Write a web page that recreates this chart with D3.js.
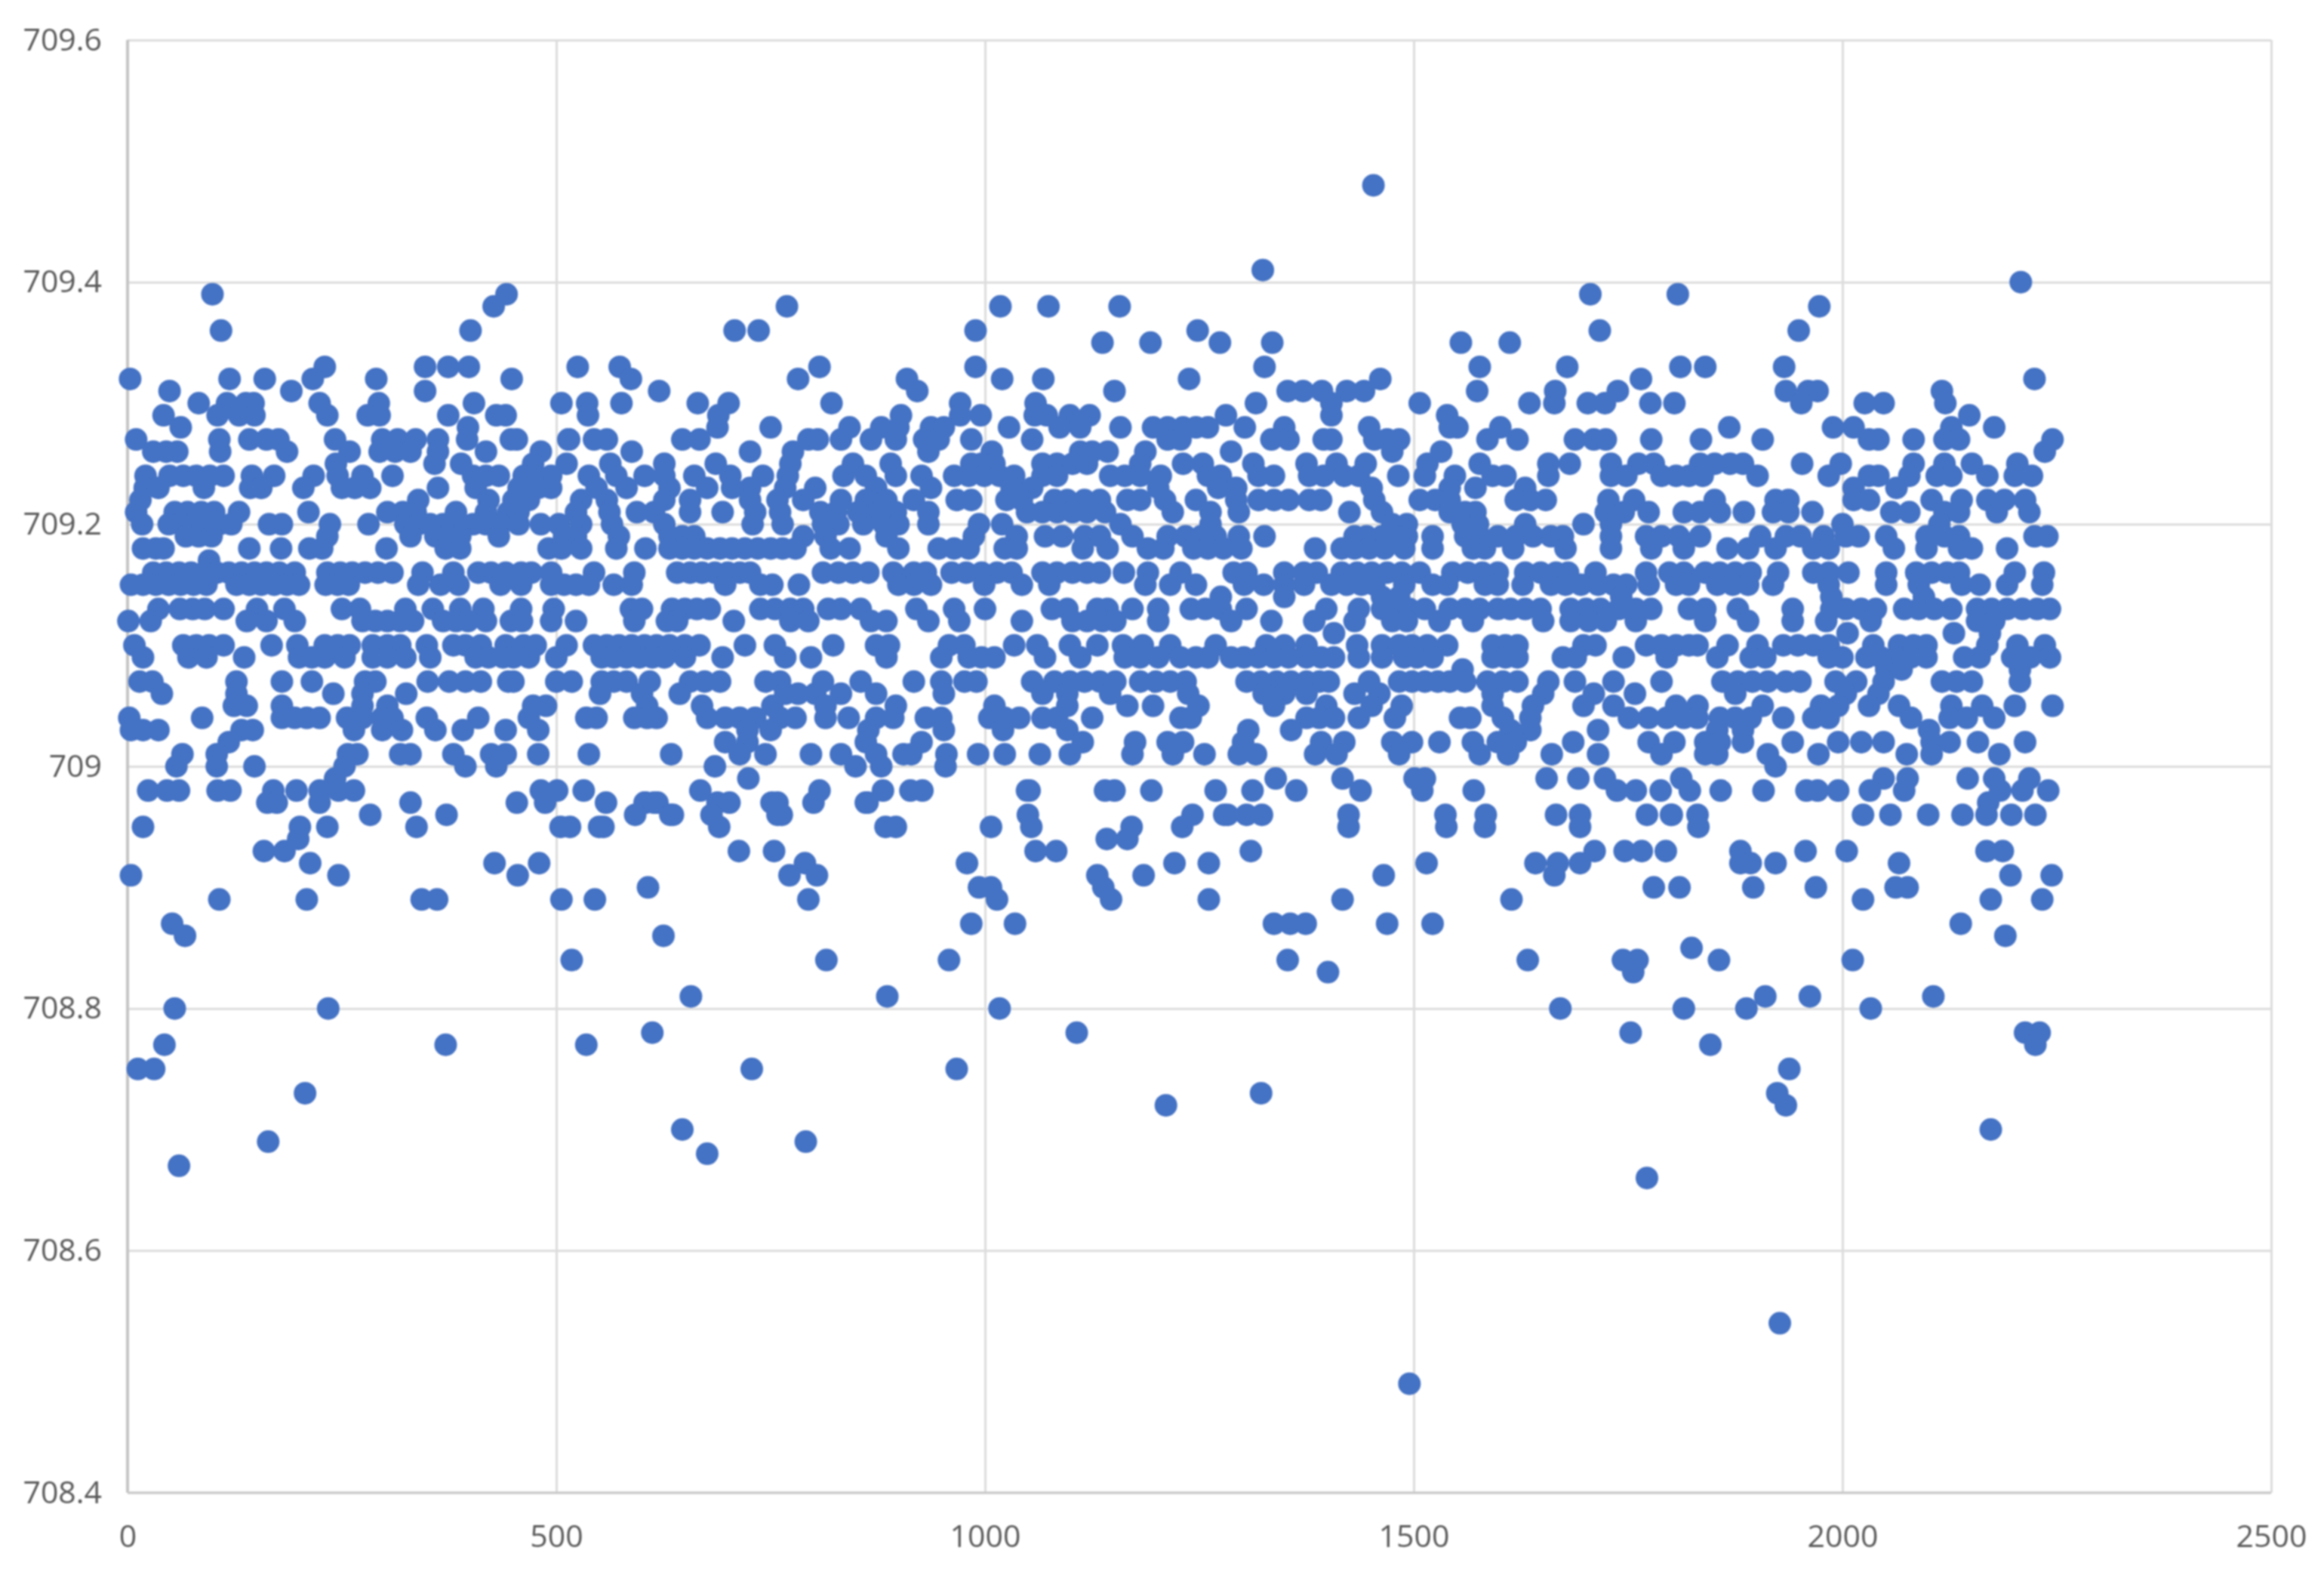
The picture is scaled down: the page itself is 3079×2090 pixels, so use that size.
<!DOCTYPE html>
<html><head><meta charset="utf-8">
<script src="https://cdn.jsdelivr.net/npm/d3@7"></script>
<style>html,body{margin:0;background:#fff}svg{display:block;filter:blur(0.8px)}
text{font-family:"Open Sans",sans-serif;fill:#595959}</style></head><body>
<svg id="c" width="3079" height="2090"></svg>
<script>
const xTicks=[0,500,1000,1500,2000,2500];
const yTicks=[708.4,708.6,708.8,709,709.2,709.4,709.6];
const r948=[1453];const r941=[1324];const r940=[2208];
const r939=[99,442,1706,1808];
const r938=[427,769,1018,1074,1157,1973];
const r936=[109,400,708,736,989,1248,1717,1949];
const r935=[1137,1193,1274,1335,1555,1612];
const r933=[230,347,374,398,525,574,807,989,1326,1577,1679,1811,1840,1932];
const r932=[3,119,160,216,290,448,587,782,909,1020,1068,1238,1461,1765,2224];
const r931=[49,191,347,620,921,1151,1353,1371,1393,1422,1442,1574,1665,1738,1934,1960,1971,2116];
const r930=[83,116,138,147,224,293,404,506,536,576,665,701,821,971,1059,1316,1404,1507,1635,1664,1703,1723,1776,1804,1952,2026,2048,2120];
const r929=[42,105,130,148,233,280,294,374,430,441,537,689,902,971,995,1058,1072,1099,1122,1281,1404,1539,2148];
const r928=[62,397,688,750,842,879,899,937,952,1028,1087,1111,1158,1196,1213,1231,1246,1260,1303,1349,1448,1542,1551,1601,1868,1989,2013,2127,2177];
const r927=[10,107,142,162,176,242,297,315,336,362,396,447,454,514,515,544,559,647,667,794,805,832,867,896,929,946,984,1055,1213,1228,1334,1354,1395,1404,1454,1469,1483,1586,1621,1688,1710,1724,1777,1835,1907,2031,2042,2083,2119,2136,2245];
const r926=[30,45,58,108,186,259,294,312,330,362,418,482,588,726,776,934,1008,1111,1125,1143,1187,1287,1475,1532,2236];
const r925=[243,358,389,473,512,563,626,686,773,846,890,984,996,1011,1067,1084,1102,1119,1181,1231,1254,1313,1375,1410,1444,1516,1577,1657,1682,1730,1762,1780,1834,1851,1869,1884,1953,1998,2083,2119,2151,2204];
const r924=[21,49,65,80,96,112,145,171,217,245,274,309,403,418,433,462,473,494,538,570,603,626,661,703,741,770,835,861,896,926,964,981,999,1017,1034,1067,1084,1146,1163,1181,1205,1260,1275,1319,1337,1378,1395,1419,1436,1482,1513,1548,1592,1607,1657,1730,1748,1789,1806,1821,1837,1901,1984,2031,2042,2078,2110,2127,2169,2201,2221];
const r923=[20,36,89,143,156,205,250,265,283,362,406,456,479,494,547,582,632,676,705,726,767,802,873,937,1031,1055,1202,1272,1293,1451,1542,1572,1630,2013,2063];
const r922=[15,339,421,450,468,529,559,626,656,726,758,788,832,861,885,917,967,984,1025,1043,1081,1096,1116,1134,1166,1181,1210,1246,1293,1319,1337,1354,1378,1392,1454,1507,1525,1542,1619,1636,1654,1727,1757,1851,1922,1937,2013,2031,2104,2139,2169,2189,2213];
const r921=[10,55,70,86,101,130,211,303,321,336,383,418,444,456,523,562,594,614,656,694,732,761,808,826,852,876,896,934,1049,1067,1084,1102,1119,1140,1219,1263,1296,1425,1463,1542,1560,1572,1724,1745,1774,1815,1834,1857,1885,1919,1937,1965,2057,2078,2119,2136,2180,2218];
const r920=[17,48,62,77,92,107,121,165,180,236,281,324,339,353,368,386,403,418,435,456,482,503,529,565,626,729,764,811,829,858,882,899,934,993,1020,1158,1263,1475,1492,1557,1575,1630,1698,1730,2000,2113];
const r919=[68,83,98,233,330,359,374,388,433,509,523,573,632,647,661,788,814,885,987,1037,1070,1090,1116,1134,1172,1213,1234,1252,1269,1296,1326,1431,1445,1463,1478,1492,1522,1560,1577,1598,1619,1639,1660,1674,1730,1771,1789,1809,1834,1904,1934,1951,1978,2004,2019,2051,2098,2119,2136,2224,2239];
const r918=[18,33,42,142,179,212,227,302,371,388,491,506,529,570,604,632,647,661,676,691,705,720,735,750,764,779,820,842,899,946,964,981,1023,1037,1114,1143,1190,1208,1243,1260,1278,1299,1385,1416,1431,1448,1466,1489,1522,1569,1583,1616,1677,1730,1777,1815,1866,1890,1922,1966,1984,2060,2098,2136,2151,2192];
const r917=[95];
const r916=[30,45,60,74,89,104,118,133,148,162,177,195,233,248,262,277,292,309,344,380,409,424,441,459,471,494,544,591,641,656,670,685,700,714,726,811,829,846,864,893,917,931,961,978,996,1014,1031,1067,1084,1102,1119,1134,1162,1190,1228,1290,1305,1349,1372,1387,1416,1434,1451,1469,1486,1507,1545,1563,1580,1598,1630,1648,1666,1680,1712,1771,1798,1815,1840,1857,1875,1893,1925,1966,1984,2007,2051,2086,2104,2122,2136,2201,2235];
const r915=[4,18,33,48,62,77,92,127,142,156,171,186,200,231,245,258,339,365,386,435,459,494,509,523,538,567,588,697,738,752,783,899,917,937,999,1043,1075,1187,1216,1246,1302,1325,1349,1372,1404,1422,1439,1454,1489,1522,1539,1583,1598,1627,1660,1677,1695,1715,1733,1748,1774,1806,1821,1854,1872,1890,1919,1984,2051,2089,2139,2160,2192,2233];
const r914=[1275,1349,1463,1483,1742,1987,2095];
const r913=[36,61,76,90,112,151,183,250,271,324,356,388,415,459,497,587,600,635,650,664,679,738,755,773,788,817,832,855,920,964,1000,1078,1096,1131,1143,1172,1202,1240,1257,1275,1305,1398,1436,1463,1481,1495,1513,1542,1560,1577,1598,1613,1630,1648,1683,1701,1718,1739,1759,1777,1821,1840,1878,1942,1987,2004,2022,2039,2072,2089,2107,2127,2157,2174,2192,2210,2227,2242];
const r912=[1,27,139,162,195,274,289,303,318,333,368,383,397,418,447,460,494,523,591,629,641,707,773,794,867,885,934,970,1043,1102,1119,1137,1152,1202,1287,1334,1384,1431,1475,1492,1530,1569,1651,1683,1704,1724,1759,1840,1890,1942,1981,2033,2157,2177];
const r911=[1407,2006,2130,2172];
const r910=[8,65,80,95,112,168,198,230,245,259,286,303,318,349,380,394,412,441,462,476,512,544,559,573,588,603,617,632,650,667,720,755,823,873,888,958,976,1034,1061,1099,1131,1161,1184,1216,1269,1328,1349,1375,1434,1463,1483,1498,1516,1539,1592,1607,1621,1698,1712,1771,1789,1806,1821,1831,1866,1901,1931,1948,1966,1984,2036,2066,2083,2098,2169,2204,2236];
const r909=[18,71,92,136,200,215,230,253,286,303,324,353,406,421,438,450,468,500,553,567,582,597,612,626,650,694,767,797,885,949,981,996,1011,1070,1111,1163,1181,1202,1228,1246,1260,1287,1302,1319,1337,1354,1375,1392,1407,1436,1463,1489,1504,1522,1592,1607,1621,1674,1689,1745,1795,1854,1893,1910,1984,2000,2028,2045,2063,2080,2098,2142,2160,2198,2219,2242];
const r908=[1557,2051,2069,2207];
const r907=[14,29,127,180,215,277,289,350,375,394,412,444,450,500,518,553,567,582,609,656,673,691,744,761,811,855,917,949,976,990,1055,1081,1099,1116,1134,1152,1181,1199,1216,1234,1305,1322,1340,1357,1375,1390,1401,1448,1483,1498,1513,1528,1542,1560,1586,1604,1621,1657,1688,1733,1789,1860,1878,1895,1913,1934,1951,1992,2016,2048,2116,2133,2151,2207];
const r906=[40,127,240,274,325,551,600,644,767,782,802,832,873,952,1067,1096,1146,1237,1325,1349,1375,1431,1460,1592,1651,1710,1758,1875,2004,2042];
const r905=[124,139,180,274,303,473,488,606,670,752,814,896,1011,1096,1166,1196,1249,1337,1398,1451,1486,1592,1639,1698,1733,1806,1831,1907,1975,1995,2031,2066,2127,2163,2201,2245];
const r904=[2,87,180,195,209,224,256,274,297,309,349,409,468,535,547,591,606,617,676,697,714,732,761,779,814,841,873,893,931,949,1005,1023,1040,1067,1084,1125,1228,1240,1375,1390,1407,1436,1478,1554,1566,1604,1636,1751,1774,1795,1815,1831,1857,1875,1893,1931,1966,1984,2080,2125,2145,2177];
const r903=[4,18,36,133,146,264,297,320,359,391,441,479,723,750,864,952,1021,1096,1307,1357,1613,1636,1715,1854,1884,2101];
const r902=[118,697,723,861,926,1114,1175,1213,1231,1301,1392,1419,1475,1498,1530,1569,1598,1619,1686,1774,1804,1840,1857,1884,1942,1995,2022,2048,2104,2125,2158,2213];
const r901=[64,104,257,268,318,330,380,424,441,479,538,634,714,744,797,832,873,905,914,955,992,1023,1064,1099,1172,1219,1256,1296,1316,1385,1410,1483,1577,1610,1661,1715,1789,1840,1854,1913,1972,2075,2104,2183];
const r900=[57,104,148,253,394,430,685,849,879,954,1922];
const r899=[242,724,1339,1417,1501,1513,1655,1692,1723,1812,2048,2076,2146,2177,2218];
const r898=[24,46,60,105,120,170,197,224,246,264,482,501,532,668,807,881,913,927,1049,1052,1140,1151,1194,1269,1312,1363,1438,1510,1570,1737,1759,1788,1822,1858,1908,1958,1971,1995,2032,2072,2184,2210,2240];
const r897=[163,174,224,330,454,487,558,603,604,614,618,688,702,751,758,800,861,863,2170];
const r896=[283,372,592,633,636,681,758,763,1050,1242,1279,1283,1305,1323,1424,1537,1584,1666,1694,1772,1800,1801,1831,2024,2056,2100,2140,2168,2197,2225];
const r895=[18,201,233,337,505,516,550,555,690,884,896,1007,1054,1171,1230,1424,1538,1583,1694,1832];
const r894=[199,1142,1166];
const r893=[159,183,713,754,1059,1083,1310,1711,1746,1766,1794,1881,1957,2005,2168,2187];
const r892=[213,428,480,790,979,1221,1261,1515,1642,1668,1694,1881,1893,1922,2066];
const r891=[4,246,455,772,804,1131,1185,1465,1664,2196,2244];
const r890=[607,993,1007,1138,1780,1810,1896,1969,2062,2076];
const r889=[107,209,343,361,506,545,794,1014,1147,1261,1417,1614,2024,2173,2233];
const r887=[52,984,1035,1337,1356,1374,1469,1522,2138];
const r886=[67,625,2190];
const r885=[1824];
const r884=[518,815,958,1353,1633,1744,1761,1856,2012];
const r883=[1400,1756];
const r881=[657,886,1910,1962,2106];
const r880=[55,234,1017,1671,1815,1888,2033];
const r878=[612,1107,1753,2213,2230];
const r877=[43,371,535,1846,2225];
const r875=[12,31,728,967,1938];
const r873=[207,1322,1924];
const r872=[1211,1934];
const r870=[647,2173];
const r869=[164,791];
const r868=[676];
const r867=[60];
const r866=[1772];
const r854=[1927];
const r849=[1495];
const levels=[[709.48,r948],[709.41,r941],[709.40,r940],[709.39,r939],[709.38,r938],[709.36,r936],[709.35,r935],[709.33,r933],[709.32,r932],[709.31,r931],[709.30,r930],[709.29,r929],[709.28,r928],[709.27,r927],[709.26,r926],[709.25,r925],[709.24,r924],[709.23,r923],[709.22,r922],[709.21,r921],[709.20,r920],[709.19,r919],[709.18,r918],[709.17,r917],[709.16,r916],[709.15,r915],[709.14,r914],[709.13,r913],[709.12,r912],[709.11,r911],[709.10,r910],[709.09,r909],[709.08,r908],[709.07,r907],[709.06,r906],[709.05,r905],[709.04,r904],[709.03,r903],[709.02,r902],[709.01,r901],[709.00,r900],[708.99,r899],[708.98,r898],[708.97,r897],[708.96,r896],[708.95,r895],[708.94,r894],[708.93,r893],[708.92,r892],[708.91,r891],[708.90,r890],[708.89,r889],[708.87,r887],[708.86,r886],[708.85,r885],[708.84,r884],[708.83,r883],[708.81,r881],[708.80,r880],[708.78,r878],[708.77,r877],[708.75,r875],[708.73,r873],[708.72,r872],[708.70,r870],[708.69,r869],[708.68,r868],[708.67,r867],[708.66,r866],[708.54,r854],[708.49,r849]];

const svg=d3.select("#c");
const x=d3.scaleLinear().domain([0,2500]).range([169,3009]);
const y=d3.scaleLinear().domain([708.4,709.6]).range([1977,53]);
const gx=svg.append("g").attr("transform","translate(0,1977)")
 .call(d3.axisBottom(x).tickValues(xTicks).tickSize(-1924).tickPadding(42).tickFormat(String));
const gy=svg.append("g").attr("transform","translate(169,0)")
 .call(d3.axisLeft(y).tickValues(yTicks).tickSize(-2840).tickPadding(34).tickFormat(String));
[gx,gy].forEach(g=>{g.select(".domain").remove();
 g.selectAll("line").attr("stroke","#dcdcdc").attr("stroke-width",3);
 g.selectAll("text").style("font-size","41px").style("fill","#595959");});
gx.selectAll("text").attr("dy","0.72em");
svg.append("line").attr("x1",x(0)).attr("x2",x(0)).attr("y1",y(709.6)).attr("y2",y(708.4)).attr("stroke","#c4c4c4").attr("stroke-width",4);
svg.append("line").attr("x1",x(0)).attr("x2",x(2500)).attr("y1",y(708.4)).attr("y2",y(708.4)).attr("stroke","#c8c8c8").attr("stroke-width",3);
const pts=levels.flatMap(([v,xs])=>xs.map(k=>({k,v})));
svg.append("g").selectAll("circle").data(pts).join("circle")
 .attr("cx",d=>x(d.k)).attr("cy",d=>y(d.v)).attr("r",15).attr("fill","#4472C4");
</script></body></html>
